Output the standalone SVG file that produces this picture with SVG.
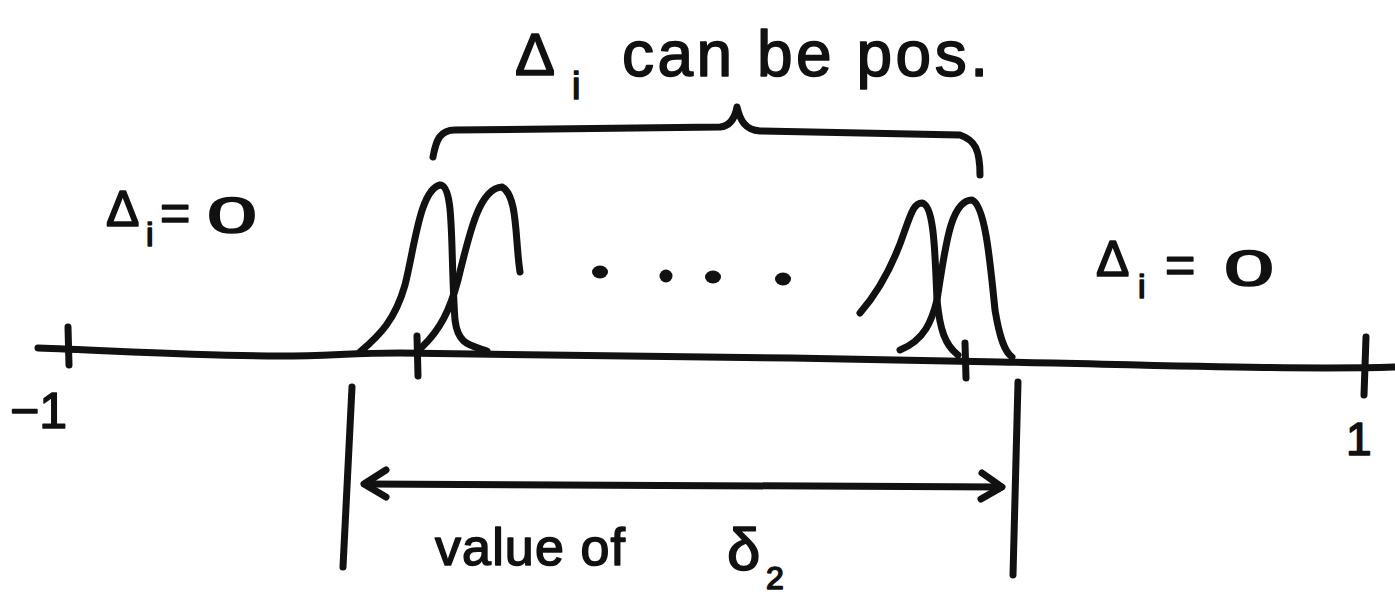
<svg xmlns="http://www.w3.org/2000/svg" width="1395" height="595" viewBox="0 0 1395 595">
<style>
.ink{fill:none;stroke:#111;stroke-width:7;stroke-linecap:round;stroke-linejoin:round}
.t{font-family:"Liberation Sans","DejaVu Sans",sans-serif;fill:#111;stroke:#111;stroke-width:1.6;stroke-linejoin:round}
</style>
<rect width="1395" height="595" fill="#fff"/>
<g id="axis">
<path class="ink" d="M38,348 C120,351 200,356 280,356 C330,356 350,353 400,353 C560,354 800,358 1000,362 C1150,365 1300,370 1395,367" stroke-width="8"/>
<path class="ink" d="M68,327 L69,365"/>
<path class="ink" d="M1366,337 L1364,395"/>
<text class="t" x="10" y="428" font-size="50">−1</text>
<text class="t" x="1346" y="455" font-size="46">1</text>
</g>
<g id="left-peaks">
<path class="ink" d="M360,352 C380,335 395,320 405,285 C415,245 420,190 440,185 C455,185 450,250 455,320 C458,345 470,345 487,351"/>
<path class="ink" d="M422,347 C440,330 450,310 458,280 C470,230 480,188 502,187 C518,195 515,240 520,272"/>
<path class="ink" d="M417,336 L418,376"/>
</g>
<g id="dots" fill="#111">
<ellipse cx="600" cy="272" rx="8" ry="6.5"/>
<ellipse cx="666" cy="276" rx="6.5" ry="6.5"/>
<ellipse cx="713" cy="277" rx="8" ry="6.5"/>
<ellipse cx="783" cy="279" rx="8" ry="6.5"/>
</g>
<g id="right-peaks">
<path class="ink" d="M860,313 C880,290 895,260 905,230 C912,210 915,203 922,203 C935,205 935,260 937,300 C940,330 945,345 958,355"/>
<path class="ink" d="M900,350 C925,340 932,320 937,300 C945,250 950,200 972,200 C985,205 990,260 995,310 C1000,340 1005,352 1012,357"/>
<path class="ink" d="M965,343 L966,378"/>
</g>
<g id="brace">
<path class="ink" d="M433,157 C436,140 440,130 455,130 L720,127 C730,126 735,118 737,107 C740,120 745,130 760,131 L960,135 C975,140 980,150 980,175"/>
</g>
<g id="label-top">
<text class="t" x="515" y="75" font-size="60">Δ</text>
<text class="t" x="572" y="99" font-size="38">i</text>
<text class="t" x="622" y="76" font-size="64" textLength="366" lengthAdjust="spacing">can be pos.</text>
</g>
<g id="label-left">
<text class="t" x="106" y="226" font-size="50">Δ</text>
<text class="t" x="146" y="246" font-size="34">i</text>
<text class="t" x="160" y="231" font-size="52">=</text>
<text class="t" x="207" y="233" font-size="50" textLength="50" lengthAdjust="spacingAndGlyphs">0</text>
</g>
<g id="label-right">
<text class="t" x="1096" y="276" font-size="50">Δ</text>
<text class="t" x="1138" y="298" font-size="34">i</text>
<text class="t" x="1165" y="283" font-size="52">=</text>
<text class="t" x="1224" y="286" font-size="50" textLength="50" lengthAdjust="spacingAndGlyphs">0</text>
</g>
<g id="connectors">
<path class="ink" d="M352,387 L343,567"/>
<path class="ink" d="M1018,382 L1013,575"/>
<path class="ink" d="M366,484 L1001,487"/>
<path class="ink" d="M386,470 L364,484 L386,497"/>
<path class="ink" d="M982,473 L1002,487 L981,499"/>
</g>
<g id="label-bottom">
<text class="t" x="435" y="565" font-size="52" textLength="190" lengthAdjust="spacing">value of</text>
<text class="t" x="727" y="570" font-size="60">δ</text>
<text class="t" x="766" y="589" font-size="32">2</text>
</g>
</svg>
